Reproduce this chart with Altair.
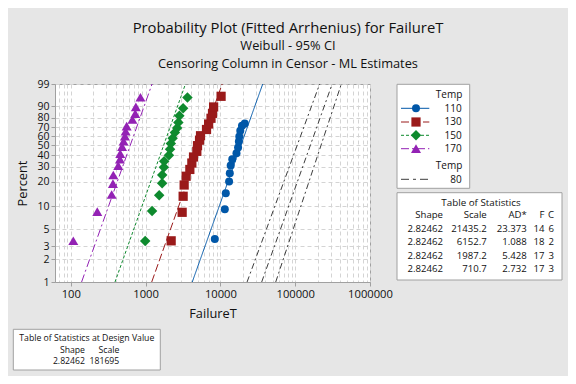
import math
import altair as alt
import pandas as pd

# ---------------- data ----------------
temps = ["110", "130", "150", "170"]
colors = ["#0057a8", "#9a1a1a", "#0e8a2e", "#9322b4"]
marker_shapes = ["circle", "square", "diamond", "triangle-up"]
marker_sizes = [64, 85, 110, 100]
dashes = [[1, 0], [8, 3], [3, 2], [8, 3, 2, 3]]

t110 = [8418, 11450, 11806, 13072, 13355, 13730, 14417, 16406, 17234, 17660, 17882, 18442, 19430, 21179]
p110 = [3.73, 9.10, 14.5, 20.2, 25.3, 31.0, 36.2, 41.7, 47.5, 54.0, 59.6, 66.1, 71.8, 74.2]
t130 = [2197, 3082, 3177, 3277, 3484, 3904, 4152, 4374, 4840, 4946, 5260, 5424, 6522, 6959, 7490, 7846, 8116, 10216]
p130 = [3.53, 8.32, 13.3, 18.3, 23.3, 27.9, 32.9, 38.2, 43.6, 49.5, 55.5, 60.5, 67.6, 73.7, 79.7, 84.4, 89.6, 95.7]
t150 = [988, 1221, 1519, 1664, 1668, 1755, 1772, 2053, 2124, 2177, 2300, 2462, 2642, 2741, 2827, 3177, 3626]
p150 = [3.51, 8.65, 13.7, 19.2, 24.1, 29.6, 34.4, 39.9, 45.8, 51.7, 57.6, 64.2, 69.3, 75.3, 82.2, 88.7, 95.2]
t170 = [108, 226, 352, 366, 370, 431, 454, 458, 485, 508, 529, 541, 558, 666, 727, 741, 853]
p170 = [3.54, 8.47, 14.0, 19.0, 24.1, 30.8, 36.2, 41.3, 48.4, 54.3, 60.0, 65.6, 71.3, 78.5, 84.1, 89.7, 95.3]
times = [t110, t130, t150, t170]
pcts = [p110, p130, p150, p170]

# fitted lines: failure time at 1% and at 99%
fit_lo = [4206, 1207, 390, 139.4]
fit_hi = [36805, 10564, 3412, 1220]
line_p = [1, 99]

# design value (80) fitted line and 95% CI bounds, at 1% and 99%
design_fit = [35650, 311970]
design_lower = [22730, 212300]
design_upper = [54920, 413800]

# tables
tab_shape = [2.82462, 2.82462, 2.82462, 2.82462]
tab_scale = ["21435.2", "6152.7", "1987.2", "710.7"]
tab_ad = ["23.373", "1.088", "5.428", "2.732"]
tab_f = [14, 18, 17, 17]
tab_c = [6, 2, 3, 3]
design_shape = "2.82462"
design_scale = "181695"

y_ticks = [1, 2, 3, 5, 10, 20, 30, 40, 50, 60, 70, 80, 90, 99]
x_major = [100, 1000, 10000, 100000, 1000000]
x_grid = [70, 80, 90] + [k * 10 ** d for d in range(2, 6) for k in range(1, 10)] + [1000000]
x_domain = [61.5, 1000000]

# ---------------- styling ----------------
FONT = "Open Sans"
TXT = "#111111"
BORDER = "#a0a0a0"
GRID = "#d4d4d4"


def wb(p):
    return math.log(-math.log(1 - p / 100.0))


y_tick_pos = [wb(p) for p in y_ticks]
y_domain = [wb(1), wb(99)]

pts = pd.concat(
    [pd.DataFrame({"t": times[i], "p": pcts[i], "temp": temps[i]}) for i in range(4)],
    ignore_index=True,
)
fits = pd.concat(
    [pd.DataFrame({"t": [fit_lo[i], fit_hi[i]], "p": line_p, "temp": temps[i]}) for i in range(4)],
    ignore_index=True,
)
design = pd.concat(
    [
        pd.DataFrame({"t": design_fit, "p": line_p, "ln": "fit"}),
        pd.DataFrame({"t": design_lower, "p": line_p, "ln": "lower"}),
        pd.DataFrame({"t": design_upper, "p": line_p, "ln": "upper"}),
    ],
    ignore_index=True,
)

is_major = "abs(log(datum.value)/LN10 - round(log(datum.value)/LN10)) < 0.001"

x_enc = alt.X(
    "t:Q",
    scale=alt.Scale(type="log", domain=x_domain, nice=False),
    axis=alt.Axis(
        values=x_grid,
        labelExpr=f"{is_major} ? format(datum.value, 'd') : ''",
        title="FailureT",
        grid=True,
        gridColor=GRID,
        gridDash=[4, 3],
        tickOpacity={"condition": {"test": is_major, "value": 1}, "value": 0},
        tickSize=4,
        tickColor=BORDER,
        domainColor=BORDER,
        labelFont=FONT,
        labelFontSize=11.2,
        labelColor=TXT,
        labelPadding=2,
        labelFlush=False,
        labelOverlap=False,
        titleFont=FONT,
        titleFontSize=12.8,
        titleFontWeight="normal",
        titleColor=TXT,
        titlePadding=8,
    ),
)
y_enc = alt.Y(
    "w:Q",
    scale=alt.Scale(domain=y_domain, nice=False, zero=False),
    axis=alt.Axis(
        values=y_tick_pos,
        labelExpr="format(round(100*(1-exp(-exp(datum.value)))), 'd')",
        title="Percent",
        grid=True,
        gridColor=GRID,
        gridDash=[4, 3],
        tickSize=4,
        tickColor=BORDER,
        domainColor=BORDER,
        labelFont=FONT,
        labelFontSize=10.5,
        labelColor=TXT,
        labelPadding=2,
        labelFlush=False,
        labelOverlap=False,
        titleFont=FONT,
        titleFontSize=12.8,
        titleFontWeight="normal",
        titleColor=TXT,
        titlePadding=7,
    ),
)

calc = "log(-log(1 - datum.p/100))"
layers = []

# design value lines (80)
layers.append(
    alt.Chart(design)
    .transform_calculate(w=calc)
    .mark_line(color="#3c3c3c", strokeWidth=1, strokeDash=[6, 3, 2, 3])
    .encode(x=x_enc, y=y_enc, detail="ln:N")
)

# fitted lines
for i in range(4):
    layers.append(
        alt.Chart(fits[fits.temp == temps[i]])
        .transform_calculate(w=calc)
        .mark_line(color=colors[i], strokeWidth=1, strokeDash=dashes[i])
        .encode(x=x_enc, y=y_enc)
    )

# points
for i in range(4):
    layers.append(
        alt.Chart(pts[pts.temp == temps[i]])
        .transform_calculate(w=calc)
        .mark_point(shape=marker_shapes[i], filled=True, opacity=1, size=marker_sizes[i], color=colors[i])
        .encode(x=x_enc, y=y_enc)
    )

one = alt.Data(values=[{"k": 0}])


def txt(s, x, y, size=10.0, align="left", lh=None):
    kw = dict(align=align, baseline="alphabetic", font=FONT, fontSize=size, color=TXT)
    if lh:
        kw["lineHeight"] = lh
    return alt.Chart(one).mark_text(**kw).encode(x=alt.value(x), y=alt.value(y), text=alt.value(s))


def box(x1, x2, y1, y2):
    return alt.Chart(one).mark_rect(fill="white", stroke=BORDER, strokeWidth=1).encode(
        x=alt.value(x1), x2=alt.value(x2), y=alt.value(y1), y2=alt.value(y2)
    )


# titles
layers.append(txt("Probability Plot (Fitted Arrhenius) for FailureT", 233, -51.5, size=14.8, align="center"))
layers.append(txt("Weibull - 95% CI", 233, -33.7, size=12.8, align="center"))
layers.append(txt("Censoring Column in Censor - ML Estimates", 233, -16, size=12.8, align="center"))

# legend
layers.append(box(342, 414.7, 0.3, 104.3))
layers.append(txt("Temp", 407.3, 13.7, size=10, align="right"))
leg_y = [24.3, 38, 51.3, 64.7]
for i in range(4):
    layers.append(
        alt.Chart(one)
        .mark_rule(color=colors[i], strokeWidth=1, strokeDash=dashes[i])
        .encode(x=alt.value(346), x2=alt.value(374.3), y=alt.value(leg_y[i]))
    )
    layers.append(
        alt.Chart(one)
        .mark_point(shape=marker_shapes[i], filled=True, opacity=1, size=marker_sizes[i], color=colors[i])
        .encode(x=alt.value(361), y=alt.value(leg_y[i]))
    )
    layers.append(txt(temps[i], 406.7, leg_y[i] + 3.3, size=10, align="right"))
layers.append(txt("Temp", 407.3, 85.3, size=10, align="right"))
layers.append(
    alt.Chart(one)
    .mark_rule(color="#3c3c3c", strokeWidth=1, strokeDash=[8, 4, 3, 4])
    .encode(x=alt.value(346), x2=alt.value(373), y=alt.value(95.3))
)
layers.append(txt("80", 406.7, 98.5, size=10, align="right"))

# table of statistics
layers.append(box(342, 507, 108.7, 196))
layers.append(txt("Table of Statistics", 426, 122, size=9.8, align="center"))
LH = 13.5
TS = 9.6
layers.append(txt(["Shape"] + [f"{v:.5f}" for v in tab_shape], 388, 134.3, size=TS, align="right", lh=LH))
layers.append(txt(["Scale"] + tab_scale, 431.7, 134.3, size=TS, align="right", lh=LH))
layers.append(txt(["AD*"] + tab_ad, 471.7, 134.3, size=TS, align="right", lh=LH))
layers.append(txt(["F"] + [str(v) for v in tab_f], 489.5, 134.3, size=TS, align="right", lh=LH))
layers.append(txt(["C"] + [str(v) for v in tab_c], 499, 134.3, size=TS, align="right", lh=LH))

# design value table
DS = 8.7
layers.append(box(-41.7, 105.3, 245.3, 286))
layers.append(txt("Table of Statistics at Design Value", 31.8, 256.7, size=DS, align="center"))
layers.append(txt(["Shape", design_shape], 30, 268.7, size=DS, align="right", lh=11.6))
layers.append(txt(["Scale", design_scale], 64.3, 268.7, size=DS, align="right", lh=11.6))

chart = (
    alt.layer(*layers)
    .properties(
        width=315,
        height=198,
        autosize=alt.AutoSizeParams(type="none"),
        padding={"left": 47, "top": 76, "right": 198, "bottom": 94},
        background="#e6e6e6",
    )
    .configure_view(fill="white", stroke=BORDER, strokeWidth=1)
)

chart.save("out.html", embed_options={"renderer": "svg", "actions": False})
